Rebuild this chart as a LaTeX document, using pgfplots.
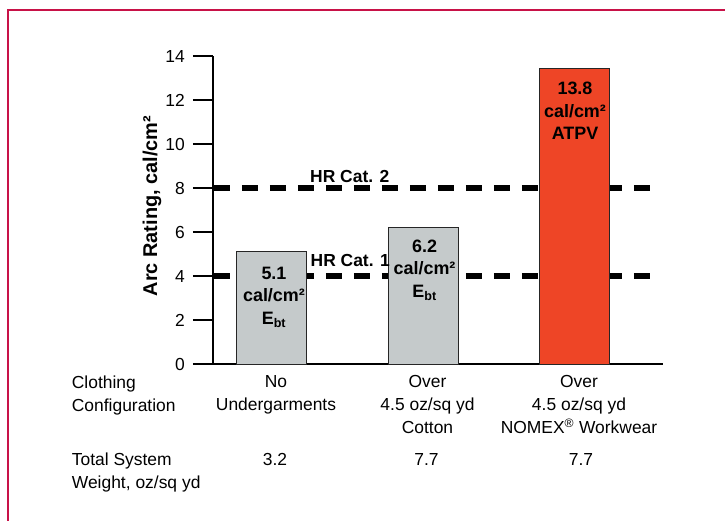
\documentclass[border=0pt]{standalone}
\usepackage{fontspec}
\setmainfont{Liberation Sans}
\usepackage{pgfplots}
\pgfplotsset{compat=1.18}
\definecolor{frameRed}{RGB}{200,18,72}
\definecolor{barGray}{RGB}{197,202,203}
\definecolor{barRed}{RGB}{238,69,38}
\begin{document}
\begin{tikzpicture}
\path[use as bounding box] (0,0) rectangle (725bp,-521bp);
\draw[frameRed, line width=2bp] (8bp,-521bp) -- (8bp,-10bp) -- (725bp,-10bp);
\begin{axis}[
  at={(213bp,-364bp)}, anchor=south west,
  scale only axis, width=450bp, height=308bp,
  xmin=-0.3894, xmax=2.5809, ymin=0, ymax=14,
  axis x line=bottom, axis y line=left,
  axis line style={-, line width=1.8bp, black},
  ytick={0,2,...,14},
  xtick={0,1,2},
  xticklabels={{No\\Undergarments},{Over\\4.5 oz/sq yd\\Cotton},{Over\\4.5 oz/sq yd\\NOMEX\textsuperscript{®} Workwear}},
  tick align=outside,
  major tick length=20bp,
  ytick style={line width=1.8bp, black},
  xtick style={draw=none},
  /pgf/number format/assume math mode=true,
  yticklabel style={font=\fontsize{17.5}{20}\selectfont, inner sep=0pt, xshift=-8bp},
  xticklabel style={font=\fontsize{17.5}{23}\selectfont, align=center, anchor=north, inner sep=0pt, xshift=4bp, yshift=8.5bp},
  clip=false,
]
\addplot[black, line width=6.5bp, dash pattern=on 16bp off 12bp] coordinates {(-0.383,8) (2.508,8)};
\addplot[black, line width=6.5bp, dash pattern=on 16bp off 12bp] coordinates {(-0.383,4) (2.508,4)};
\addplot[ybar, bar width=70bp, bar shift=0pt, fill=barGray, draw=black!85, line width=1bp] coordinates {(0,5.1) (1,6.2)};
\addplot[ybar, bar width=70bp, bar shift=0pt, fill=barRed, draw=black!85, line width=1bp] coordinates {(2,13.45)};
\node[font=\bfseries\fontsize{18}{22.5}\selectfont, align=center, anchor=north, inner sep=0pt] at (axis cs:0.013,4.41) {5.1\\cal/cm²\\E\textsubscript{bt}};
\node[font=\bfseries\fontsize{18}{22.5}\selectfont, align=center, anchor=north, inner sep=0pt] at (axis cs:1.007,5.66) {6.2\\cal/cm²\\E\textsubscript{bt}};
\node[font=\bfseries\fontsize{18}{22.5}\selectfont, align=center, anchor=north, inner sep=0pt] at (axis cs:2,12.82) {13.8\\cal/cm²\\ATPV};
\node[font=\bfseries\fontsize{17.5}{22}\selectfont, anchor=base west, inner sep=0pt] at (axis cs:0.251,8.27) {HR Cat. 2};
\node[font=\bfseries\fontsize{17.5}{22}\selectfont, anchor=base west, inner sep=0pt] at (axis cs:0.254,4.41) {HR Cat. 1};
\node[font=\fontsize{17.5}{23}\selectfont, anchor=base, inner sep=0pt] at ([yshift=-101bp]axis cs:0.02,0) {3.2};
\node[font=\fontsize{17.5}{23}\selectfont, anchor=base, inner sep=0pt] at ([yshift=-101bp]axis cs:1.02,0) {7.7};
\node[font=\fontsize{17.5}{23}\selectfont, anchor=base, inner sep=0pt] at ([yshift=-101bp]axis cs:2.04,0) {7.7};
\end{axis}
\node[rotate=90, anchor=base, inner sep=0pt, font=\bfseries\fontsize{20}{22}\selectfont] at (157bp,-206bp) {Arc Rating, cal/cm²};
\node[anchor=base west, inner sep=0pt, font=\fontsize{17.5}{23}\selectfont] at (71.7bp,-388bp) {Clothing};
\node[anchor=base west, inner sep=0pt, font=\fontsize{17.5}{23}\selectfont] at (71.7bp,-411bp) {Configuration};
\node[anchor=base west, inner sep=0pt, font=\fontsize{17.5}{23}\selectfont] at (71.7bp,-465bp) {Total System};
\node[anchor=base west, inner sep=0pt, font=\fontsize{17.5}{23}\selectfont] at (71.7bp,-488bp) {Weight, oz/sq yd};
\end{tikzpicture}
\end{document}
